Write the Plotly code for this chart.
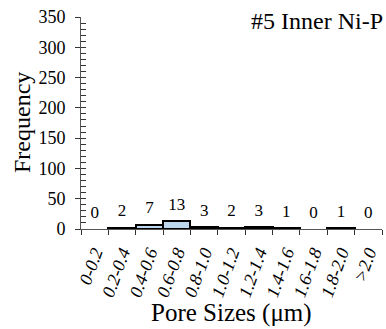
import plotly.graph_objects as go

categories = ["0-0.2", "0.2-0.4", "0.4-0.6", "0.6-0.8", "0.8-1.0", "1.0-1.2",
              "1.2-1.4", "1.4-1.6", "1.6-1.8", "1.8-2.0", ">2.0"]
frequency = [0, 2, 7, 13, 3, 2, 3, 1, 0, 1, 0]
title_text = "#5 Inner Ni-P"
label_offset = 26

FONT = "Liberation Serif, Times New Roman, serif"

fig = go.Figure()
fig.add_trace(go.Bar(
    x=categories, y=frequency,
    marker=dict(color="#BDD7EE",
                line=dict(color="black", width=[0 if v == 0 else 2 for v in frequency])),
    width=1.0, showlegend=False, hoverinfo="skip",
))
fig.add_trace(go.Scatter(
    x=categories, y=[v + label_offset for v in frequency],
    mode="text", text=[str(v) for v in frequency],
    textfont=dict(family=FONT, size=17, color="black"),
    textposition="middle center", showlegend=False, cliponaxis=False,
))
# overlay axis to draw inside minor ticks
fig.add_trace(go.Scatter(x=[categories[0]], y=[0], yaxis="y2", mode="markers",
                         marker=dict(opacity=0), showlegend=False, hoverinfo="skip"))

fig.update_layout(
    width=386, height=329,
    margin=dict(l=81, r=4, t=17, b=100),
    paper_bgcolor="white", plot_bgcolor="white",
    bargap=0,
    font=dict(family=FONT, color="black"),
    xaxis=dict(type="category", categoryorder="array", categoryarray=categories,
               range=[-0.5, 10.5],
               tickson="boundaries", ticks="outside", ticklen=5, tickcolor="#333",
               showline=True, linecolor="#555", linewidth=1, showgrid=False,
               tickangle=-70, tickfont=dict(family=FONT, size=18, style="italic"),
               zeroline=False, ticklabelstandoff=5),
    yaxis=dict(range=[0, 350], dtick=50, ticks="outside", ticklen=5, tickcolor="#333",
               showline=True, linecolor="#555", linewidth=1, showgrid=False,
               zeroline=False, tickfont=dict(family=FONT, size=18),
               ticklabelstandoff=6),
    yaxis2=dict(range=[0, 350], dtick=10, overlaying="y", side="left", anchor="x",
                ticks="inside", ticklen=5, tickcolor="#333", showticklabels=False,
                showline=False, showgrid=False, zeroline=False),
    annotations=[
        dict(text=title_text, xref="paper", yref="paper", x=(249 - 81) / 301, y=1 + (17 - 21) / 212,
             xanchor="left", yanchor="middle", showarrow=False,
             font=dict(family=FONT, size=24, color="black")),
        dict(text="Frequency", xref="paper", yref="paper", x=(22 - 81) / 301, y=0.5,
             xanchor="center", yanchor="middle", textangle=-90, showarrow=False,
             font=dict(family=FONT, size=24, color="black")),
        dict(text="Pore Sizes (μm)", xref="paper", yref="paper", x=0.5, y=(229 - 313) / 212,
             xanchor="center", yanchor="middle", showarrow=False,
             font=dict(family=FONT, size=25, color="black")),
    ],
)

fig.write_html("out.html")
